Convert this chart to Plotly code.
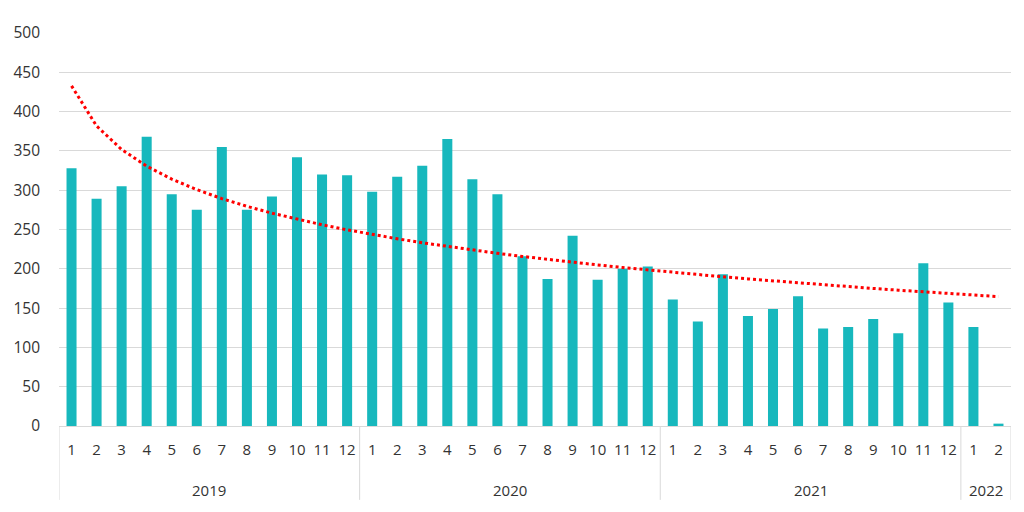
import numpy as np
import plotly.graph_objects as go

years = ["2019"] * 12 + ["2020"] * 12 + ["2021"] * 12 + ["2022"] * 2
months = [str(m) for m in range(1, 13)] * 3 + ["1", "2"]
values = [328, 289, 305, 368, 295, 275, 355, 275, 292, 342, 320, 319,
          298, 317, 331, 365, 314, 295, 216, 187, 242, 186, 200, 203,
          161, 133, 193, 140, 149, 165, 124, 126, 136, 118, 207, 157,
          126, 3]
y_ticks = list(range(0, 501, 50))

n = len(values)
pos = list(range(n))

# logarithmic trendline fitted to the data (as in the source chart)
idx = np.arange(1, n + 1)
b, a = np.polyfit(np.log(idx), np.array(values, dtype=float), 1)
trend = a + b * np.log(idx)

fig = go.Figure()
fig.add_trace(go.Bar(x=pos, y=values, width=0.4, marker_color="#17B8BD",
                     marker_line_width=0, showlegend=False))
fig.add_trace(go.Scatter(x=pos, y=trend, mode="lines",
                         line=dict(color="#FF0000", width=3, dash="dot"),
                         showlegend=False))

# year groups: labels and dividers
groups = []
for i, yv in enumerate(years):
    if not groups or groups[-1][0] != yv:
        groups.append([yv, i, i])
    else:
        groups[-1][2] = i

DIV_BOTTOM = -0.188
for gname, s, e in groups:
    fig.add_annotation(x=(s + e) / 2, y=-0.163, xref="x", yref="paper",
                       text=gname, showarrow=False, yanchor="middle",
                       font=dict(size=15, color="#333333"))
edges = [g[1] - 0.5 for g in groups] + [groups[-1][2] + 0.5]
for xe in edges:
    fig.add_shape(type="line", xref="x", yref="paper", x0=xe, x1=xe,
                  y0=0, y1=DIV_BOTTOM, line=dict(color="#D9D9D9", width=1))

# page body has an 8px margin, so the figure is sized/offset to compensate
fig.update_layout(
    width=1016, height=504,
    margin=dict(l=51, r=13, t=25, b=86),
    plot_bgcolor="white", paper_bgcolor="white",
    font=dict(family="Open Sans", size=15, color="#333333"),
)
fig.update_xaxes(range=[-0.5, n - 0.5], tickvals=pos, ticktext=months,
                 showline=True, linecolor="#D9D9D9", linewidth=1,
                 showgrid=False, zeroline=False, ticks="", automargin=False,
                 tickfont=dict(size=15, color="#333333"),
                 ticklabelstandoff=10)
fig.update_yaxes(range=[0, 500], tickvals=y_ticks, showgrid=True,
                 gridcolor="#D9D9D9", gridwidth=1, zeroline=False,
                 tickfont=dict(size=15.5, color="#333333"), ticks="",
                 ticklabelstandoff=18, automargin=False)

fig.write_html("out.html")
